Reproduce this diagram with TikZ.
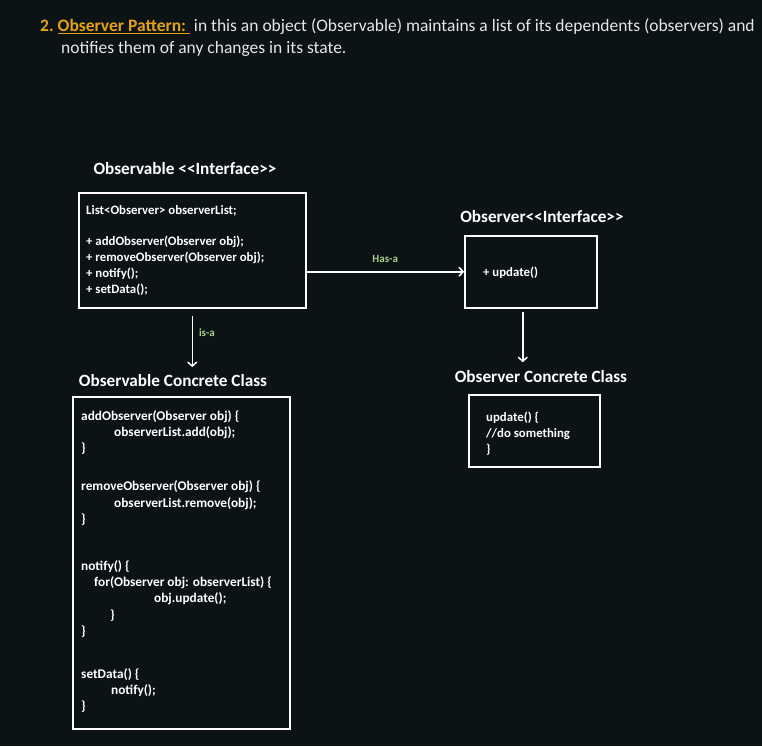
\documentclass[tikz,border=0pt]{standalone}
\usepackage{fontspec}
\setmainfont{Carlito}
\usetikzlibrary{positioning,arrows.meta}

\definecolor{bgcol}{HTML}{0C1315}
\definecolor{headorange}{HTML}{E5A116}
\definecolor{relgreen}{HTML}{A9D08E}
\definecolor{headgray}{HTML}{E6E6E6}

\tikzset{
	classbox/.style={draw=white, line width=1.5pt, inner sep=0pt, anchor=north west},
	classtitle/.style={text=white, inner sep=0pt, font=\bfseries\fontsize{17.2}{20}\selectfont},
	codetext/.style={text=white, align=left, inner sep=0pt, anchor=north west, font=\bfseries\fontsize{12.8}{16.2}\selectfont},
	rellabel/.style={text=relgreen, inner sep=0pt, font=\bfseries\fontsize{11}{13}\selectfont},
	relarrow/.style={-{Straight Barb[length=4pt,width=9pt]}, draw=white, line width=1.5pt}
}

\begin{document}
\begin{tikzpicture}[x=1pt, y=-1pt]
	\fill
		[bgcol] (0,0) rectangle (762,746);
	\useasboundingbox (0,0) rectangle (762,746);

	% heading
	\node (heading) at (40,53.3) [anchor=base west, inner sep=0pt, align=left, text=headgray, font=\fontsize{17.5}{21.6}\selectfont]
		{{\color{headorange}\bfseries 2.\ \underline{Observer Pattern:\ }}\ in this an object (Observable) maintains a list of its dependents (observers) and\\
		\hspace*{21pt}notifies them of any changes in its state.};

	% observable interface
	\node (obstitle) at (185,169) [classtitle] {Observable <{}<Interface>{}>};
	\node (obsbox) at (78,192) [classbox, minimum width=227pt, minimum height=115pt] {};
	\node (obscode) at (86,205.5) [codetext]
		{List<Observer> observerList;\\[14.3pt]
		+ addObserver(Observer obj);\\
		+ removeObserver(Observer obj);\\
		+ notify();\\
		+ setData();};

	% observable concrete class
	\node (concretetitle) at (173,381) [classtitle] {Observable Concrete Class};
	\node (concretebox) at (72,396) [classbox, minimum width=217pt, minimum height=332pt] {};
	\node (concretecode) at (81,410.5) [codetext, font=\bfseries\fontsize{13.3}{16.2}\selectfont]
		{addObserver(Observer obj) \{\\
		\hspace*{33pt}observerList.add(obj);\\
		\}\\[21.7pt]
		removeObserver(Observer obj) \{\\
		\hspace*{33pt}observerList.remove(obj);\\
		\}\\[31pt]
		notify() \{\\
		\hspace*{13pt}for(Observer obj: observerList) \{\\
		\hspace*{73pt}obj.update();\\
		\hspace*{29pt}\}\\
		\}\\[27pt]
		setData() \{\\
		\hspace*{30pt}notify();\\
		\}};

	% observer interface
	\node (obsvtitle) at (542,217) [classtitle] {Observer<{}<Interface>{}>};
	\node (obsvbox) at (464,235) [classbox, minimum width=132pt, minimum height=72pt] {};
	\node (obsvcode) at (483,267) [codetext] {+ update()};

	% observer concrete class
	\node (obsvconctitle) at (541,377) [classtitle] {Observer Concrete Class};
	\node (obsvconcbox) at (468,394) [classbox, minimum width=131pt, minimum height=72pt] {};
	\node (obsvconccode) at (486,411.5) [codetext]
		{update() \{\\
		//do something\\
		\}};

	% relations
	\draw
		[relarrow] ([yshift=-7pt]obsbox.south) -- node [rellabel, right=6pt, pos=0.34] {is-a} ([yshift=7.6pt]obsbox.south |- concretetitle.north);

	\draw
		[relarrow] (obsbox.east |- obsvbox.west) -- node [rellabel, above=8pt, pos=0.5] {Has-a} (obsvbox.west);

	\draw
		[relarrow] ([xshift=-8pt,yshift=-3pt]obsvbox.south) -- ([xshift=-8pt,yshift=8.5pt]obsvbox.south |- obsvconctitle.north);

\end{tikzpicture}
\end{document}
